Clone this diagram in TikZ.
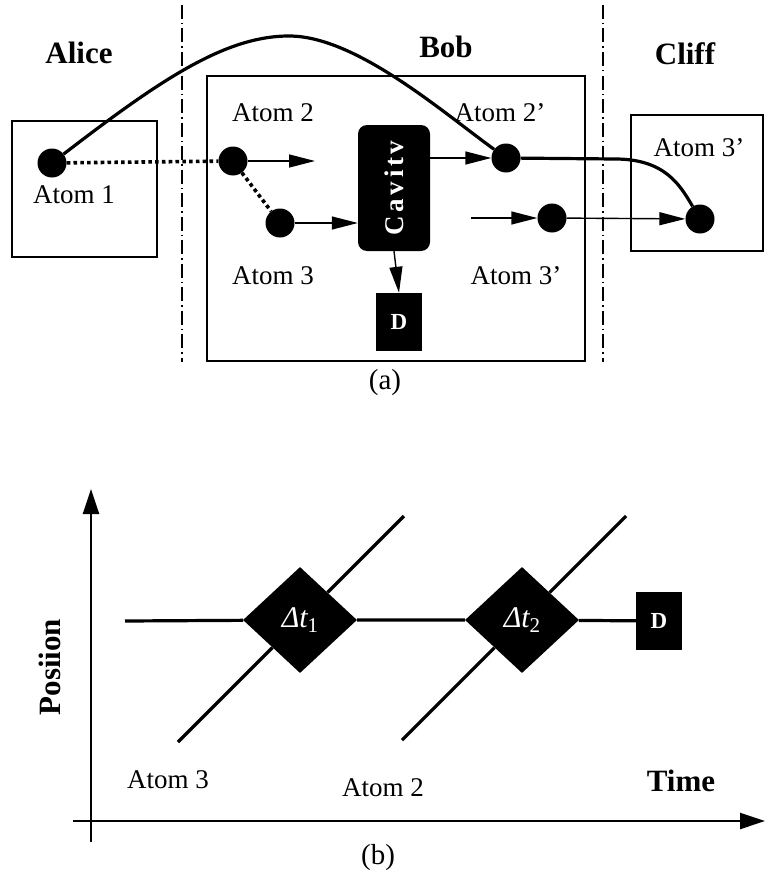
\documentclass[tikz,border=0pt]{standalone}
\usepackage{fontspec}
\setmainfont{Liberation Serif}
\usetikzlibrary{shapes.geometric,arrows.meta}

\begin{document}
\begin{tikzpicture}[x=1pt,y=-1pt,
    atom/.style={circle,fill=black,minimum size=29pt,inner sep=0pt},
    lab/.style={font=\fontsize{27}{30}\selectfont},
    party/.style={font=\fontsize{31}{34}\selectfont\bfseries},
    flow/.style={-{Triangle[length=26pt,width=13pt]},line width=1.4pt},
    link/.style={line width=3.2pt},
    entangle/.style={line width=3.6pt,dash pattern=on 3.6pt off 3.2pt},
    divider/.style={line width=1.2pt,dash pattern=on 14pt off 4pt on 1.5pt off 4pt},
    labbox/.style={line width=1.8pt},
    detector/.style={fill=black,text=white,minimum width=46pt,minimum height=58pt,inner sep=0pt,font=\fontsize{23}{25}\selectfont\bfseries},
    delay/.style={diamond,fill=black,text=white,minimum width=114pt,minimum height=106pt,inner sep=0pt,font=\fontsize{30}{32}\selectfont},
    axis/.style={-{Triangle[length=25pt,width=16pt]},line width=2.4pt},
    track/.style={line width=3.2pt}]

  \useasboundingbox (0,0) rectangle (765,883);

   %draw the three parties
  \draw[divider] (182,5) -- (182,362);
  \draw[divider] (603,5) -- (603,362);
  \draw[labbox] (12,121) rectangle (157,257);
  \draw[labbox] (207,76) rectangle (585,361);
  \draw[labbox] (631,115) rectangle (763,251);
  \node[party] (alice) at (79,53) {Alice};
  \node[party] (bob) at (446,47) {Bob};
  \node[party] (cliff) at (685,54) {Cliff};

   %draw atoms
  \node[atom] (a1) at (52,163) {};
  \node[atom] (a2) at (233,161) {};
  \node[atom] (a3) at (280,223) {};
  \node[atom] (a2p) at (506,158) {};
  \node[atom] (a3p) at (552,218) {};
  \node[atom] (a3c) at (700,219) {};
  \node[lab] (l1) at (74,195) {Atom 1};
  \node[lab] (l2) at (273,113) {Atom 2};
  \node[lab] (l3) at (273,276) {Atom 3};
  \node[lab] (l2p) at (500,113) {Atom 2’};
  \node[lab] (l3p) at (516,276) {Atom 3’};
  \node[lab] (l3c) at (699,148) {Atom 3’};

   %draw cavity and detector
  \node[rounded corners=9pt,fill=black,minimum width=72pt,minimum height=126pt] (cav) at (394,188) {};
  \node[rotate=90,text=white,font=\fontsize{27}{29}\selectfont\bfseries] (cavtxt) at (cav.center) {\addfontfeature{LetterSpace=13}Cavitv};
  \node[detector] (d1) at (399,322) {D};

   %draw flights
  \coordinate (a2to) at (315,161);
  \coordinate (a3from) at (471,218);
  \draw[flow] (a2) -- (a2to);
  \draw[flow] (a3) -- (a3 -| cav.west);
  \draw[flow] (cav.east |- a2p) -- (a2p);
  \draw[flow] (cav.south) -- (d1.north);
  \draw[flow] (a3from) -- (a3p);
  \draw[flow] (a3p) -- (a3c);

   %draw entanglement
  \draw[entangle] (a1) -- (a2);
  \draw[entangle] (a2) -- (a3);
  \draw[link] (a1) .. controls (160,80) and (225,36) .. (289,36)
     .. controls (355,36) and (440,110) .. (a2p);
  \draw[link] (a2p) -- (615,159) .. controls (665,159) and (680,185) .. (a3c);

  \node[lab,font=\fontsize{29}{31}\selectfont] (capa) at (385,383) {(a)};

   %draw axes
  \coordinate (ybot) at (91,842);
  \coordinate (ytop) at (91,489);
  \coordinate (xleft) at (73,821);
  \coordinate (xright) at (765,821);
  \draw[axis] (ybot) -- (ytop);
  \draw[axis] (xleft) -- (xright);

   %draw delays
  \node[delay] (dt1) at (300,620) {{\itshape Δt}\raisebox{-.35ex}{\fontsize{21}{21}\selectfont 1}};
  \node[delay] (dt2) at (522,620) {{\itshape Δt}\raisebox{-.35ex}{\fontsize{21}{21}\selectfont 2}};
  \node[detector] (d2) at (659,621) {D};
  \coordinate (start) at (125,621);
  \draw[track] (start) -- (dt1) -- (dt2) -- (d2);
  \coordinate (s3) at (178,742);
  \coordinate (e3) at (404,516);
  \draw[track] (s3) -- (dt1) -- (e3);
  \coordinate (s2) at (402,740);
  \coordinate (e2) at (626,516);
  \draw[track] (s2) -- (dt2) -- (e2);

  \node[lab] (t3) at (168,780) {Atom 3};
  \node[lab] (t2) at (383,788) {Atom 2};
  \node[party] (time) at (681,781) {Time};
  \node[party,rotate=90] (pos) at (50,667) {Posiion};
  \node[lab,font=\fontsize{29}{31}\selectfont] (capb) at (378,858) {(b)};
\end{tikzpicture}
\end{document}
